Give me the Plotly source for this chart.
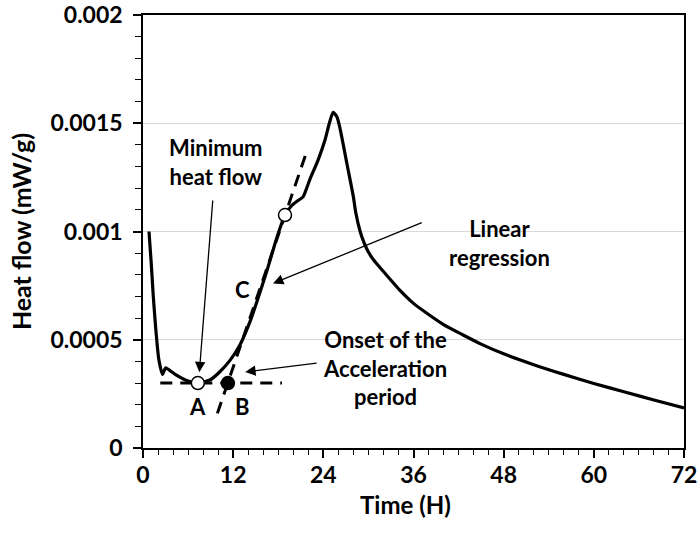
import plotly.graph_objects as go

# ---- data ----
time_h = [0.8, 1.1, 1.37, 1.7, 2.1, 2.6, 3.0, 3.5, 4.5, 5.8, 7.3, 8.9, 10.2, 11.6, 12.9,
          14.2, 15.2, 16.5, 17.8, 18.9, 19.8, 20.5, 21.3, 22.2, 23.3, 24.2, 24.8, 25.3,
          25.8, 26.2, 27.1, 28.0, 28.3, 28.9, 29.4, 30.0, 30.7, 31.5, 33.0, 34.2, 36.0,
          38.2, 40.0, 42.6, 45.0, 48.0, 52.0, 56.0, 60.0, 64.0, 68.0, 72.0]
heat_flow = [0.00100, 0.00085, 0.00070, 0.00055, 0.00041, 0.00034, 0.00037, 0.00036,
             0.000335, 0.000312, 0.00030, 0.000314, 0.000351, 0.000406, 0.000476,
             0.00058, 0.00068, 0.00082, 0.00097, 0.001076, 0.00112, 0.00114, 0.00116,
             0.00124, 0.00133, 0.00142, 0.00150, 0.00155, 0.00153, 0.00148, 0.00132,
             0.00116, 0.00109, 0.00100, 0.00095, 0.000905, 0.000868, 0.000835, 0.000775,
             0.000728, 0.000668, 0.000612, 0.00057, 0.000522, 0.00048, 0.000435, 0.000385,
             0.00034, 0.000298, 0.00026, 0.000222, 0.000185]

baseline_x = [2.3, 18.5]
baseline_y = [0.0003, 0.0003]
regression_x = [9.9, 21.6]
regression_y = [0.00016, 0.00135]

point_a = (7.3, 0.0003)      # minimum heat flow (open)
point_b = (11.3, 0.0003)     # onset (filled)
point_c = (18.9, 0.001076)   # regression point (open)

x_ticks = [0, 12, 24, 36, 48, 60, 72]
y_ticks = [0, 0.0005, 0.001, 0.0015, 0.002]
y_tick_text = ["0", "0.0005", "0.001", "0.0015", "0.002"]
x_title = "Time (H)"
y_title = "Heat flow (mW/g)"

FONT = "Lato"
fig = go.Figure()

fig.add_trace(go.Scatter(x=baseline_x, y=baseline_y, mode="lines",
                         line=dict(color="black", width=3, dash="12px,8px"),
                         showlegend=False, hoverinfo="skip"))
fig.add_trace(go.Scatter(x=regression_x, y=regression_y, mode="lines",
                         line=dict(color="black", width=3, dash="12px,8px"),
                         showlegend=False, hoverinfo="skip"))
fig.add_trace(go.Scatter(x=time_h, y=heat_flow, mode="lines",
                         line=dict(color="black", width=3.2, shape="spline", smoothing=0.6),
                         showlegend=False))
fig.add_trace(go.Scatter(x=[point_a[0], point_c[0]], y=[point_a[1], point_c[1]], mode="markers",
                         marker=dict(size=13, color="white", line=dict(color="black", width=1.5)),
                         showlegend=False))
fig.add_trace(go.Scatter(x=[point_b[0]], y=[point_b[1]], mode="markers",
                         marker=dict(size=13, color="black", line=dict(color="black", width=1.5)),
                         showlegend=False))

tfont = dict(family=FONT, size=22, color="black", weight="bold")
texts = [
    ("Minimum<br>heat flow", 9.6, 0.00132),
    ("Linear<br>regression", 47.5, 0.000947),
    ("Onset of the<br>Acceleration<br>period", 32.2, 0.00037),
    ("C", 13.2, 0.00073),
    ("A", 7.3, 0.00019),
    ("B", 13.2, 0.00019),
]
for t, x, y in texts:
    fig.add_annotation(x=x, y=y, text=t, showarrow=False, font=tfont, xref="x", yref="y")

arrows = [
    ((9.3, 0.00115), (7.5, 0.00035)),
    ((37.3, 0.001044), (17.3, 0.00076)),
    ((23.3, 0.000393), (13.6, 0.000351)),
]
for (tx, ty), (hx, hy) in arrows:
    fig.add_annotation(x=hx, y=hy, ax=tx, ay=ty, xref="x", yref="y", axref="x", ayref="y",
                       text="", showarrow=True, arrowhead=2, arrowsize=1.6, arrowwidth=1.3,
                       arrowcolor="black")

title_font = dict(family=FONT, size=25, color="black", weight="bold")
fig.add_annotation(x=0.485, y=-0.13, xref="paper", yref="paper", text=x_title,
                   showarrow=False, font=dict(family=FONT, size=24, color="black", weight="bold"),
                   xanchor="center", yanchor="middle")

fig.update_layout(
    width=700, height=536,
    margin=dict(l=143, r=16, t=15, b=88),
    paper_bgcolor="white", plot_bgcolor="white",
    font=dict(family=FONT, size=22, color="black", weight="bold"),
)
fig.update_xaxes(range=[0, 72], tickvals=x_ticks, ticks="outside", ticklen=8, tickwidth=1.5,
                 tickcolor="black", showline=True, linecolor="black", linewidth=1.5, mirror=True,
                 showgrid=False, zeroline=False, automargin=False, ticklabelstandoff=-2,
                 minor=dict(dtick=2, ticks="outside", ticklen=5, tickwidth=1.2, tickcolor="black"),
                 tickfont=dict(family=FONT, size=23, weight="bold"))
fig.update_yaxes(range=[0, 0.002], tickvals=y_ticks, ticktext=y_tick_text, ticks="outside",
                 ticklen=8, tickwidth=1.5, tickcolor="black", showline=True, linecolor="black",
                 linewidth=1.5, mirror=True, showgrid=True, gridcolor="#d9d9d9", gridwidth=1,
                 zeroline=False, ticklabelstandoff=6, automargin=False,
                 minor=dict(dtick=0.0001, ticks="outside", ticklen=6, tickwidth=1.2, tickcolor="black",
                            showgrid=False),
                 title=dict(text=y_title, font=title_font, standoff=12),
                 tickfont=dict(family=FONT, size=23, weight="bold"))

fig.write_html("out.html")
